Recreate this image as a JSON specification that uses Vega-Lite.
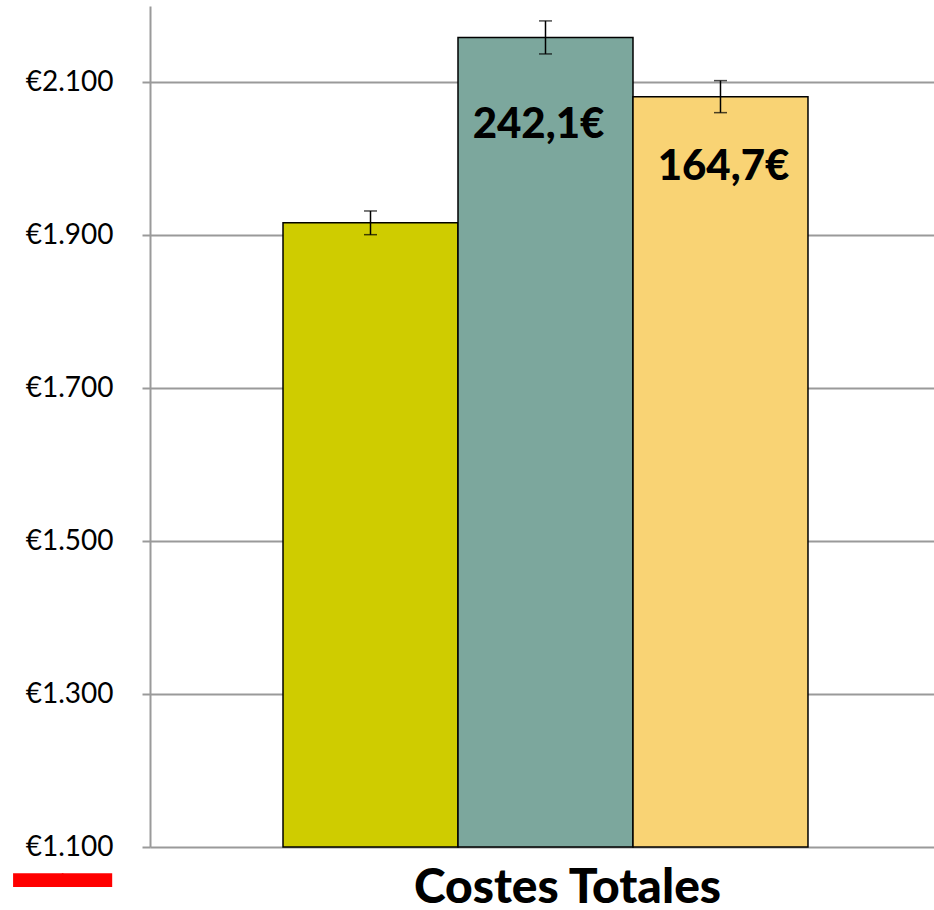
{
  "$schema": "https://vega.github.io/schema/vega-lite/v6.json",
  "width": 784,
  "height": 841,
  "autosize": {"type": "none"},
  "padding": {"left": 150, "top": 6, "right": 0, "bottom": 63},
  "background": "white",
  "config": {"view": {"stroke": null}},
  "title": {
    "text": "━━",
    "orient": "bottom",
    "anchor": "start",
    "frame": "group",
    "color": "#FF0000",
    "font": "DejaVu Sans Mono",
    "fontSize": 81,
    "dx": -136,
    "offset": -68
  },
  "data": {
    "values": [
      {"categoria": "Costes Totales", "serie": "Serie 1", "valor": 1916.6, "lo": 1900.9, "hi": 1931.9, "etiqueta": ""},
      {"categoria": "Costes Totales", "serie": "Serie 2", "valor": 2158.7, "lo": 2137.3, "hi": 2180.5, "etiqueta": "242,1€"},
      {"categoria": "Costes Totales", "serie": "Serie 3", "valor": 2081.3, "lo": 2060.5, "hi": 2102.4, "etiqueta": "164,7€"}
    ]
  },
  "encoding": {
    "x": {
      "field": "categoria",
      "type": "nominal",
      "scale": {"paddingInner": 0, "paddingOuter": 0.2467, "align": 0.5135},
      "axis": {
        "title": null,
        "domain": false,
        "ticks": false,
        "labelAngle": 0,
        "labelFont": "Lato",
        "labelFontWeight": 900,
        "labelFontSize": 48,
        "labelColor": "black",
        "labelBaseline": "top",
        "labelPadding": 17,
        "labelOffset": 22,
        "labelLimit": 0
      }
    },
    "xOffset": {"field": "serie", "type": "nominal", "scale": {"paddingInner": 0, "paddingOuter": 0}}
  },
  "layer": [
    {
      "mark": {"type": "bar", "stroke": "black", "strokeWidth": 1.5},
      "encoding": {
        "y": {
          "field": "valor",
          "type": "quantitative",
          "scale": {"domain": [1100, 2200], "nice": false, "zero": false},
          "axis": {
            "title": null,
            "values": [1100, 1300, 1500, 1700, 1900, 2100],
            "labelExpr": "'€' + replace(format(datum.value, ','), ',', '.')",
            "labelFont": "Lato",
            "labelFontSize": 28,
            "labelColor": "black",
            "labelPadding": 29,
            "tickSize": 8,
            "tickColor": "#9a9a9a",
            "tickWidth": 2,
            "domainColor": "#9a9a9a",
            "domainWidth": 2,
            "grid": true,
            "gridColor": "#9a9a9a",
            "gridWidth": 2
          }
        },
        "y2": {"datum": 1100},
        "color": {
          "field": "serie",
          "type": "nominal",
          "scale": {"range": ["#CFCC00", "#7CA79D", "#F9D374"]},
          "legend": null
        }
      }
    },
    {
      "mark": {"type": "rule", "color": "black", "strokeWidth": 1.5},
      "encoding": {
        "y": {"field": "lo", "type": "quantitative"},
        "y2": {"field": "hi"}
      }
    },
    {
      "mark": {"type": "tick", "color": "black", "thickness": 1.5, "size": 13},
      "encoding": {"y": {"field": "lo", "type": "quantitative"}}
    },
    {
      "mark": {"type": "tick", "color": "black", "thickness": 1.5, "size": 13},
      "encoding": {"y": {"field": "hi", "type": "quantitative"}}
    },
    {
      "transform": [{"filter": "datum.serie == 'Serie 2'"}],
      "mark": {"type": "text", "font": "Lato", "fontWeight": 900, "fontSize": 42, "color": "black", "baseline": "alphabetic", "dy": 100, "dx": -7},
      "encoding": {
        "y": {"field": "valor", "type": "quantitative"},
        "text": {"field": "etiqueta"}
      }
    },
    {
      "transform": [{"filter": "datum.serie == 'Serie 3'"}],
      "mark": {"type": "text", "font": "Lato", "fontWeight": 900, "fontSize": 42, "color": "black", "baseline": "alphabetic", "dy": 83, "dx": 3},
      "encoding": {
        "y": {"field": "valor", "type": "quantitative"},
        "text": {"field": "etiqueta"}
      }
    }
  ]
}
